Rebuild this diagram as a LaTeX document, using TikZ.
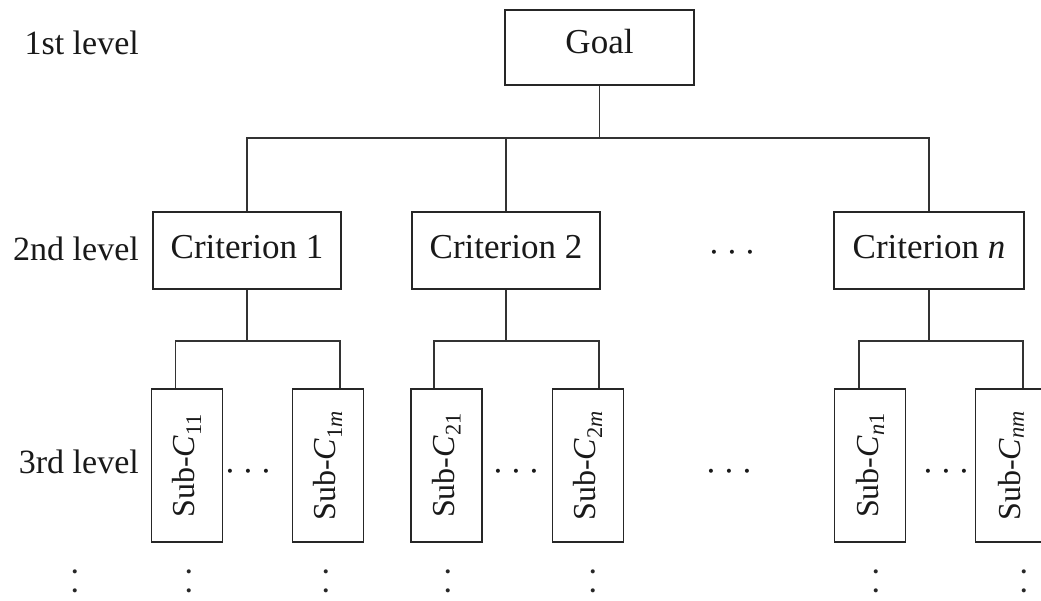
\documentclass[tikz,border=0pt]{standalone}
\usepackage{fontspec}
\setmainfont{Liberation Serif}
\newcommand\threedots{\textperiodcentered\hspace{6.6pt}\textperiodcentered\hspace{6.6pt}\textperiodcentered}
\newcommand\twodots{\textperiodcentered\hspace{8pt}\textperiodcentered}
\begin{document}
\begin{tikzpicture}[x=1pt,y=1pt,
  box/.style={draw=black!85, line width=1.7pt, rectangle, inner sep=0pt, text=black!90,
              font=\fontsize{35}{40}\selectfont},
  goalbox/.style={box, minimum width=189pt, minimum height=75pt, text height=24pt, text depth=11pt},
  crit/.style={box, minimum width=188pt, minimum height=77pt, text height=24pt, text depth=7pt},
  subbox/.style={box, rotate=90, minimum width=153pt, minimum height=71pt,
                 font=\fontsize{32}{36}\selectfont},
  lvl/.style={anchor=base east, inner sep=0pt, text=black!90, font=\fontsize{34}{40}\selectfont},
  link/.style={draw=black!80, line width=1.4pt},
  hdots/.style={anchor=base, inner sep=0pt, text=black!90, font=\fontsize{34}{40}\selectfont},
  vdotsn/.style={anchor=base, rotate=90, inner sep=0pt, text=black!85, font=\fontsize{34}{40}\selectfont}
]
\useasboundingbox (0,0) rectangle (1041,-601);
\clip (0,0) rectangle (1041,-601);
\fill[white] (0,0) rectangle (1041,-601);

% level labels
\node[lvl] (l1) at (139,-55) {1st level};
\node[lvl] (l2) at (139,-261) {2nd level};
\node[lvl] (l3) at (139,-473) {3rd level};

% goal and criteria
\node[goalbox] (goal) at (599.5,-47.5) {Goal};
\node[crit] (c1) at (247,-250.5) {Criterion 1};
\node[crit] (c2) at (506,-250.5) {Criterion 2};
\node[crit, minimum width=190pt] (cn) at (929,-250.5) {Criterion \textit{n}};
\node[hdots] (d2) at (732,-263.5) {\threedots};

% sub-criteria
\node[subbox] (s11) at (187,-465.5) {Sub-\textit{C}\textsubscript{11}};
\node[subbox] (s1m) at (328,-465.5) {Sub-\textit{C}\textsubscript{1\textit{m}}};
\node[subbox] (s21) at (446.5,-465.5) {Sub-\textit{C}\textsubscript{21}};
\node[subbox] (s2m) at (588,-465.5) {Sub-\textit{C}\textsubscript{2\textit{m}}};
\node[subbox] (sn1) at (870,-465.5) {Sub-\textit{C}\textsubscript{\textit{n}1}};
\node[subbox] (snm) at (1011,-465.5) {Sub-\textit{C}\textsubscript{\textit{nm}}};

\node[hdots] (d31) at (248,-482.5) {\threedots};
\node[hdots] (d32) at (516,-482.5) {\threedots};
\node[hdots] (d33) at (729,-482.5) {\threedots};
\node[hdots] (d34) at (946,-482.5) {\threedots};

% connectors level 1 -> 2
\draw[link] (goal.south) -- ++(0,-52) coordinate (hub);
\draw[link] (c1.north) |- (hub) -| (cn.north);
\draw[link] (c2.north) -- (c2.north |- hub);

% connectors level 2 -> 3
\draw[link] (c1.south) -- ++(0,-51) coordinate (h1);
\draw[link] ([xshift=-11.5pt]s11.east) |- (h1) -| ([xshift=12pt]s1m.east);
\draw[link] (c2.south) -- ++(0,-51) coordinate (h2);
\draw[link] ([xshift=-12.5pt]s21.east) |- (h2) -| ([xshift=11pt]s2m.east);
\draw[link] (cn.south) -- ++(0,-51) coordinate (hn);
\draw[link] ([xshift=-11pt]sn1.east) |- (hn) -| ([xshift=12pt]snm.east);

% vertical continuation dots
\node[vdotsn] (v0) at (86.5,-581.5) {\twodots};
\node[vdotsn] (v1) at (200.5,-581.5) {\twodots};
\node[vdotsn] (v2) at (337.5,-581.5) {\twodots};
\node[vdotsn] (v3) at (459.5,-581.5) {\twodots};
\node[vdotsn] (v4) at (604.5,-581.5) {\twodots};
\node[vdotsn] (v5) at (887.5,-581.5) {\twodots};
\node[vdotsn] (v6) at (1035.5,-581.5) {\twodots};
\end{tikzpicture}
\end{document}
